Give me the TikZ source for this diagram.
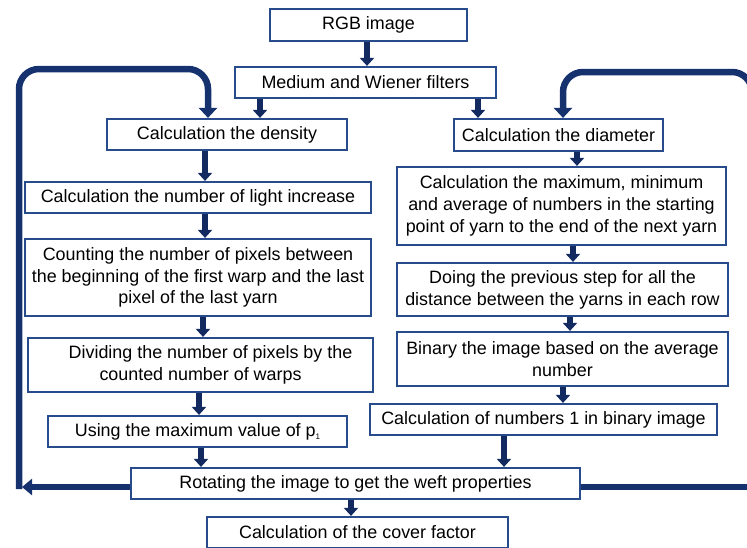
\documentclass[tikz,border=0pt]{standalone}
\usepackage{fontspec}
\setmainfont{Liberation Sans}
\usetikzlibrary{arrows.meta}
\definecolor{boxc}{RGB}{40,75,140}
\definecolor{arrc}{RGB}{18,42,95}
\definecolor{loopc}{RGB}{22,50,110}
\begin{document}
\begin{tikzpicture}[x=1pt,y=-1pt,
  font=\fontsize{17.9}{21.8}\selectfont,
  box/.style={draw=boxc,line width=2.2pt,fill=white,inner sep=0pt,align=center},
  arr/.style={draw=arrc,line width=5.5pt,-{Triangle[width=14pt,length=8pt]}},
  loopline/.style={draw=loopc,line width=6.5pt,rounded corners=20pt},
  looparr/.style={loopline,-{Triangle[width=18pt,length=10pt]}}]
\useasboundingbox (0,0) rectangle (747,547);
\clip (0,0) rectangle (747,547);
% boxes
\node[box,minimum width=197pt,minimum height=32pt] (rgb) at (368.5,25) {RGB image};
\node[box,minimum width=261pt,minimum height=31pt] (med) at (365.5,82.5) {Medium and Wiener filters};
\node[box,minimum width=240pt,minimum height=31pt] (dens) at (227,134.5) {Calculation the density};
\node[box,minimum width=209pt,minimum height=32pt] (diam) at (558.5,135) {Calculation the diameter};
\node[box,minimum width=346pt,minimum height=31pt] (light) at (198,197.5) {Calculation the number of light increase};
\node[box,minimum width=346pt,minimum height=77pt] (count) at (198,277.5) {Counting the number of pixels between\\the beginning of the first warp and the last\\pixel of the last yarn};
\node[box,minimum width=345pt,minimum height=54pt] (div) at (200.5,365) {\hspace*{20pt}Dividing the number of pixels by the\\counted number of warps};
\node[box,minimum width=299pt,minimum height=31pt] (usemax) at (197.5,431.5) {Using the maximum value of p\raisebox{-0.35ex}{\fontsize{8}{8}\selectfont 1}};
\node[box,minimum width=449pt,minimum height=31pt] (rot) at (355.5,483.5) {Rotating the image to get the weft properties};
\node[box,minimum width=301pt,minimum height=31pt] (cover) at (357.5,532.5) {Calculation of the cover factor};
\node[box,minimum width=329pt,minimum height=78pt] (maxbox) at (561.5,206) {Calculation the maximum, minimum\\and average of numbers in the starting\\point of yarn to the end of the next yarn};
\node[box,minimum width=331pt,minimum height=53pt] (doing) at (562.5,289.5) {Doing the previous step for all the\\distance between the yarns in each row};
\node[box,minimum width=331pt,minimum height=54pt] (binary) at (562.5,359) {Binary the image based on the average\\number};
\node[box,minimum width=347pt,minimum height=31pt] (ones) at (543.5,419.5) {Calculation of numbers 1 in binary image};
% short arrows
\draw[arr] (367,0 |- rgb.south) -- (367,0 |- med.north);
\draw[arr] (260,0 |- med.south) -- (260,0 |- dens.north);
\draw[arr] (478,0 |- med.south) -- (478,0 |- diam.north);
\draw[arr] (205,0 |- dens.south) -- (205,0 |- light.north);
\draw[arr] (205,0 |- light.south) -- (205,0 |- count.north);
\draw[arr] (203,0 |- count.south) -- (203,0 |- div.north);
\draw[arr] (199,0 |- div.south) -- (199,0 |- usemax.north);
\draw[arr] (201,0 |- usemax.south) -- (201,0 |- rot.north);
\draw[arr] (351,0 |- rot.south) -- (351,0 |- cover.north);
\draw[arr] (577,0 |- diam.south) -- (577,0 |- maxbox.north);
\draw[arr] (573,0 |- maxbox.south) -- (573,0 |- doing.north);
\draw[arr] (570,0 |- doing.south) -- (570,0 |- binary.north);
\draw[arr] (563,0 |- binary.south) -- (563,0 |- ones.north);
\draw[arr] (504,0 |- ones.south) -- (504,0 |- rot.north);
% feedback loops
\coordinate (lc) at (19,489);
\coordinate (la) at (22,487);
\coordinate (rc) at (770,487);
\draw[loopline,-{Triangle[width=16pt,length=10pt]}] (rot.west |- la) -- (la);
\draw[looparr] (lc) -- (19,69) -- (208,69) -- (208,0 |- dens.north);
\draw[loopline] (rot.east |- rc) -- (rc);
\draw[looparr] (752,200) -- (752,72) -- (563,72) -- (563,0 |- diam.north);
\end{tikzpicture}
\end{document}
